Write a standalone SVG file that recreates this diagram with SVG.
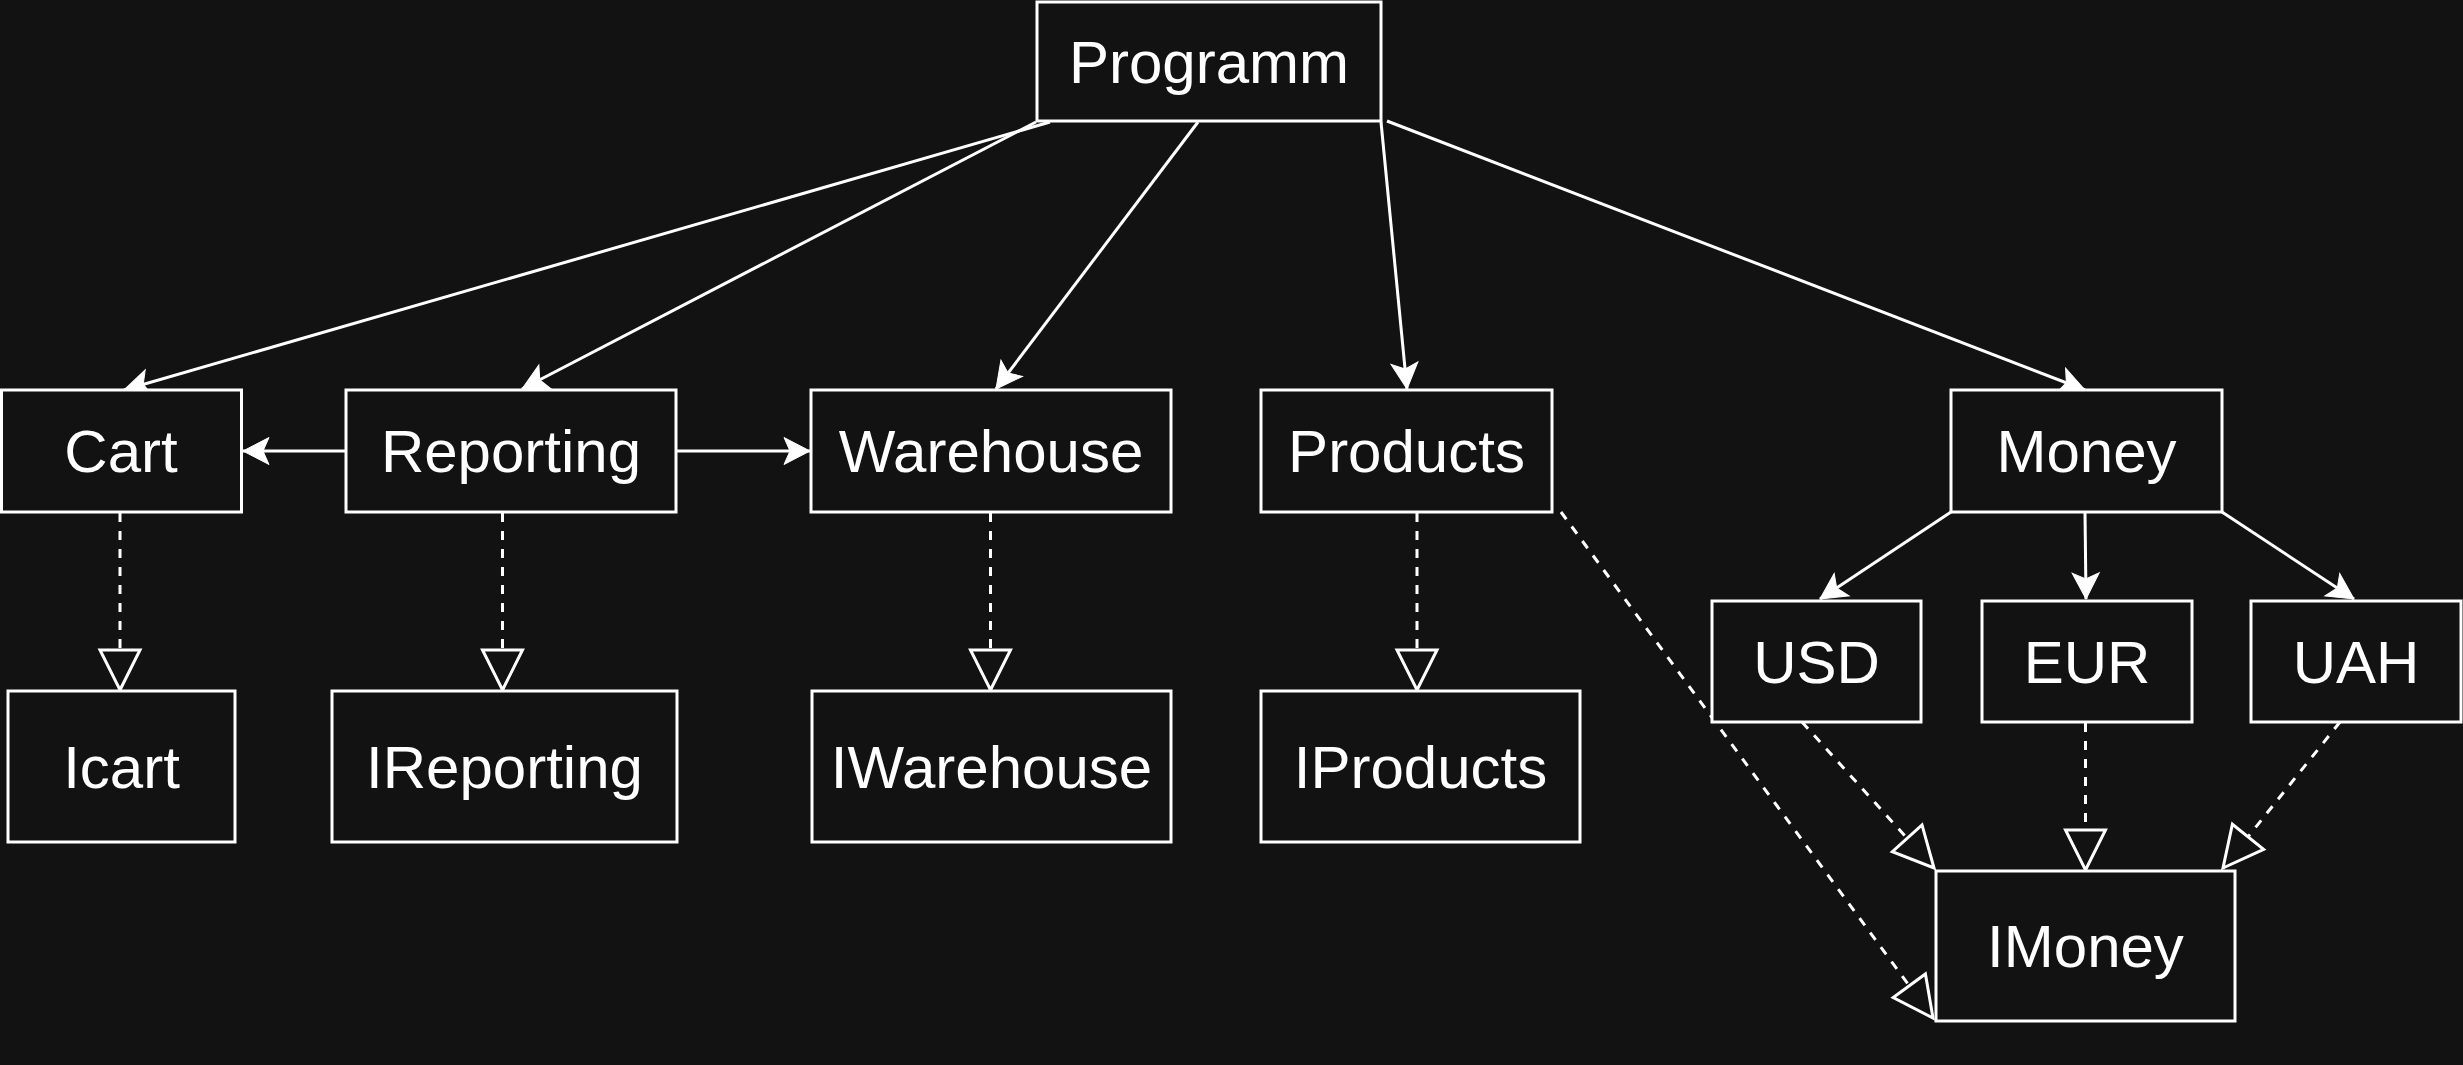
<svg xmlns="http://www.w3.org/2000/svg" width="2463" height="1065" viewBox="0 0 2463 1065">
<style>
.box{fill:#121212;stroke:#ffffff;stroke-width:3}
.lbl{fill:#ffffff;font-family:"Liberation Sans",Arial,sans-serif;font-size:60px;text-anchor:middle}
.dep{fill:none;stroke:#ffffff;stroke-width:3;marker-end:url(#classic)}
.impl{fill:none;stroke:#ffffff;stroke-width:3;stroke-dasharray:9 9;marker-end:url(#open)}
</style>
<defs>
<marker id="classic" markerUnits="userSpaceOnUse" viewBox="-30 -16 32 32" refX="0" refY="0" markerWidth="32" markerHeight="32" orient="auto" overflow="visible">
<path d="M0,0 L-26,-13.5 L-20,0 L-26,13.5 Z" fill="#ffffff" stroke="#ffffff" stroke-width="1"/>
</marker>
<marker id="open" markerUnits="userSpaceOnUse" viewBox="-44 -24 48 48" refX="0" refY="0" markerWidth="48" markerHeight="48" orient="auto" overflow="visible">
<path d="M0,0 L-40,-20 L-40,20 Z" fill="#121212" stroke="#ffffff" stroke-width="3" stroke-linejoin="miter"/>
</marker>
</defs>
<rect x="0" y="0" width="2463" height="1065" fill="#121212"/>
<g id="connectors">
<line class="dep" x1="1050" y1="122" x2="124" y2="390"/>
<line class="dep" x1="1036" y1="122" x2="522" y2="389"/>
<line class="dep" x1="1198" y1="122" x2="996" y2="389"/>
<line class="dep" x1="1381" y1="122" x2="1407" y2="389"/>
<line class="dep" x1="1387" y1="121" x2="2085" y2="390"/>
<line class="dep" x1="346" y1="451" x2="243" y2="451"/>
<line class="dep" x1="676" y1="451" x2="810" y2="451"/>
<line class="dep" x1="1951" y1="512" x2="1820" y2="599"/>
<line class="dep" x1="2085" y1="512" x2="2086" y2="599"/>
<line class="dep" x1="2222" y1="512" x2="2354" y2="599"/>
<line class="impl" x1="120" y1="513" x2="120" y2="690"/>
<line class="impl" x1="502.5" y1="513" x2="502.5" y2="690"/>
<line class="impl" x1="990.5" y1="513" x2="990.5" y2="690"/>
<line class="impl" x1="1417" y1="513" x2="1417" y2="690"/>
<line class="impl" x1="2085.5" y1="723" x2="2085.5" y2="870"/>
<line class="impl" x1="1802" y1="722" x2="1934" y2="868"/>
<line class="impl" x1="2340" y1="722" x2="2223" y2="868"/>
<line class="impl" x1="1561" y1="512" x2="1933" y2="1018"/>
</g>
<g id="programm"><rect class="box" x="1037" y="2" width="344" height="119"/><text class="lbl" x="1209" y="83">Programm</text></g>
<g id="cart"><rect class="box" x="1.5" y="390" width="240" height="122"/><text class="lbl" x="121" y="472">Cart</text></g>
<g id="reporting"><rect class="box" x="346" y="390" width="330" height="122"/><text class="lbl" x="511" y="472">Reporting</text></g>
<g id="warehouse"><rect class="box" x="811" y="390" width="360" height="122"/><text class="lbl" x="991" y="472">Warehouse</text></g>
<g id="products"><rect class="box" x="1261" y="390" width="291" height="122"/><text class="lbl" x="1406.5" y="472">Products</text></g>
<g id="money"><rect class="box" x="1951" y="390" width="271" height="122"/><text class="lbl" x="2086.5" y="472">Money</text></g>
<g id="usd"><rect class="box" x="1712" y="601" width="209" height="121"/><text class="lbl" x="1816.5" y="683">USD</text></g>
<g id="eur"><rect class="box" x="1982" y="601" width="210" height="121"/><text class="lbl" x="2087" y="683">EUR</text></g>
<g id="uah"><rect class="box" x="2251" y="601" width="210" height="121"/><text class="lbl" x="2356" y="683">UAH</text></g>
<g id="icart"><rect class="box" x="8" y="691" width="227" height="151"/><text class="lbl" x="121.5" y="788">Icart</text></g>
<g id="ireporting"><rect class="box" x="332" y="691" width="345" height="151"/><text class="lbl" x="504.5" y="788">IReporting</text></g>
<g id="iwarehouse"><rect class="box" x="812" y="691" width="359" height="151"/><text class="lbl" x="991.5" y="788">IWarehouse</text></g>
<g id="iproducts"><rect class="box" x="1261" y="691" width="319" height="151"/><text class="lbl" x="1420.5" y="788">IProducts</text></g>
<g id="imoney"><rect class="box" x="1936" y="871" width="299" height="150"/><text class="lbl" x="2085.5" y="967">IMoney</text></g>
</svg>
